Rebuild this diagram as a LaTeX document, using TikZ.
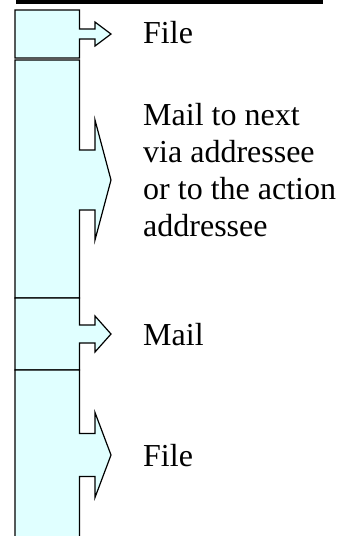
\documentclass[tikz,border=0pt]{standalone}
\usepackage{fontspec}
\setmainfont{Liberation Serif}

\definecolor{paleblue}{HTML}{E0FFFF}

% one column block with its arrow: top, bottom, middle, shaft half, head half
\newcommand{\stage}[5]{%
  \filldraw[stagebox] (15,#1) -- (79.5,#1) -- (79.5,#3-#4) -- (95,#3-#4)
    -- (95,#3-#5) -- (111,#3) -- (95,#3+#5) -- (95,#3+#4) -- (79.5,#3+#4)
    -- (79.5,#2) -- (15,#2) -- cycle;}

\begin{document}
\begin{tikzpicture}[x=1pt,y=-1pt,
    stagebox/.style={fill=paleblue, draw=black, line width=1.2pt},
    steplabel/.style={anchor=base west, inner sep=0pt, align=left,
      font=\fontsize{32}{37}\selectfont}]
    \path[use as bounding box] (0,0) rectangle (349,536);
    \clip (0,0) rectangle (349,536);

    \fill[black] (16,0) rectangle (323,4);

    \stage{10}{58}{34}{5}{12}
    \stage{60}{298}{180}{30}{60}
    \stage{298}{370}{334}{9}{18}
    \stage{370}{545}{455}{21.5}{42.5}

    \node[steplabel] (filetop) at (143,43) {File};
    \node[steplabel] (mailnext) at (143,236) {Mail to next\\via addressee\\or to the action\\addressee};
    \node[steplabel] (mail) at (143,345) {Mail};
    \node[steplabel] (filebottom) at (143,466) {File};
\end{tikzpicture}
\end{document}
